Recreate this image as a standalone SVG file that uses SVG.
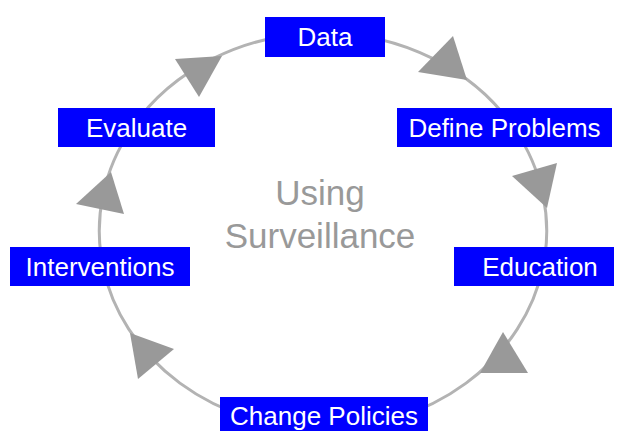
<svg xmlns="http://www.w3.org/2000/svg" width="618" height="431" viewBox="0 0 618 431">
  <style>
    .arc { fill: none; stroke: #b3b3b3; stroke-width: 3; }
    .head { fill: #999999; stroke: none; }
    .box { fill: #0000ff; }
    .label { font-family: "Liberation Sans", Arial, sans-serif; font-size: 26px; fill: #ffffff; text-anchor: middle; }
    .title { font-family: "Liberation Sans", Arial, sans-serif; font-size: 35px; fill: #999999; text-anchor: middle; }
  </style>
  <rect width="618" height="431" fill="#ffffff"/>

  <!-- cycle connectors: elliptical arcs running clockwise, each with a triangular head -->
  <g id="connectors">
    <path class="arc" d="M323,33 A224,198 0 0 1 514,128"/>
    <path class="arc" d="M514,128 A224,198 0 0 1 543,267"/>
    <path class="arc" d="M543,267 A224,198 0 0 1 323,429"/>
    <path class="arc" d="M323,429 A224,198 0 0 1 103,267"/>
    <path class="arc" d="M103,267 A224,198 0 0 1 132,128"/>
    <path class="arc" d="M132,128 A224,198 0 0 1 323,33"/>
    <polygon class="head" points="453,36 418,72 467,80"/>
    <polygon class="head" points="512,176 557,163 547,208"/>
    <polygon class="head" points="503,332 528,373 480,373"/>
    <polygon class="head" points="130,333 174,349 138,379"/>
    <polygon class="head" points="111,172 76,204 124,214"/>
    <polygon class="head" points="175,59 222,56 199,97"/>
  </g>

  <!-- centre caption -->
  <g id="caption">
    <text class="title" x="320" y="205">Using</text>
    <text class="title" x="320" y="248">Surveillance</text>
  </g>

  <g id="data">
    <rect class="box" x="265" y="17" width="120" height="40"/>
    <text class="label" x="325" y="46">Data</text>
  </g>
  <g id="define-problems">
    <rect class="box" x="397" y="108" width="215" height="39"/>
    <text class="label" x="504.5" y="137">Define Problems</text>
  </g>
  <g id="education">
    <rect class="box" x="454" y="247" width="160" height="39"/>
    <text class="label" x="540" y="276">Education</text>
  </g>
  <g id="change-policies">
    <rect class="box" x="220" y="397" width="208" height="40"/>
    <text class="label" x="324" y="425">Change Policies</text>
  </g>
  <g id="interventions">
    <rect class="box" x="10" y="247" width="180" height="39"/>
    <text class="label" x="100" y="276">Interventions</text>
  </g>
  <g id="evaluate">
    <rect class="box" x="58" y="108" width="157" height="39"/>
    <text class="label" x="136.5" y="137">Evaluate</text>
  </g>
</svg>
